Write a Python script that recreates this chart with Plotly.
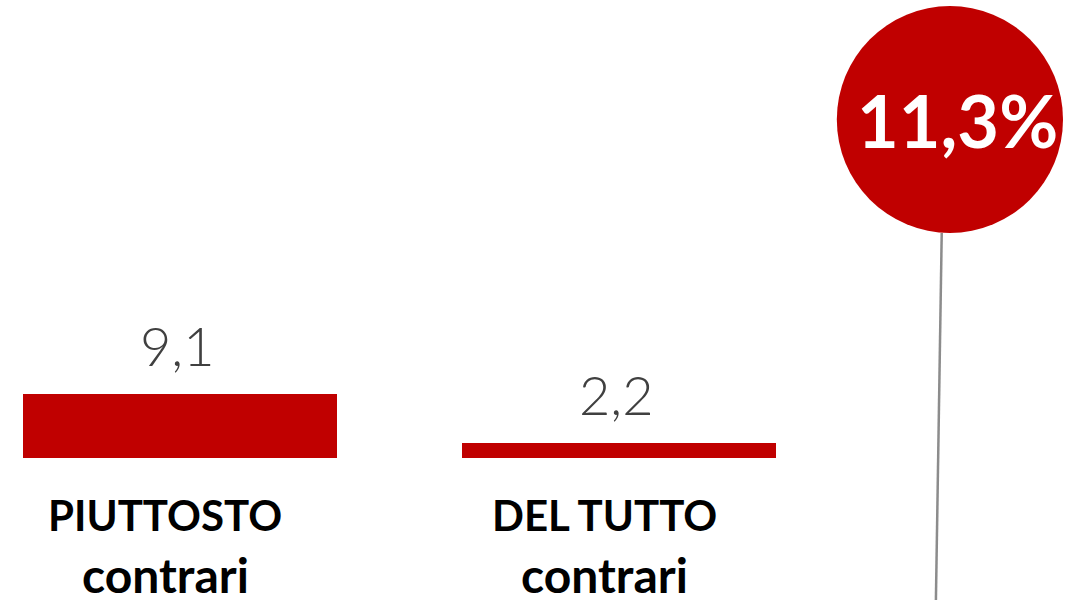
import plotly.graph_objects as go

categories = ["PIUTTOSTO<br>contrari", "DEL TUTTO<br>contrari"]
values = [9.1, 2.2]
value_labels = ["9,1", "2,2"]

total = round(sum(values), 1)
total_label = f"{total:.1f}".replace(".", ",") + "%"

RED = "#C00000"
xpos = list(range(len(values)))

fig = go.Figure()
fig.add_trace(go.Bar(
    x=xpos, y=values, width=0.715,
    marker=dict(color=RED, line=dict(width=0)),
    hoverinfo="skip", showlegend=False,
))

annotations = []
for xi, v, lab in zip(xpos, values, value_labels):
    annotations.append(dict(
        x=xi, y=v, xref="x", yref="y", text=lab, showarrow=False,
        xanchor="center", yanchor="bottom", yshift=14, xshift=-3,
        font=dict(family="Lato", size=54, color="#404040", weight=300),
    ))
line_sizes = [42, 48]
line_shifts = [-30, -86]
for xi, cat in zip(xpos, categories):
    for li, line in enumerate(cat.split("<br>")):
        annotations.append(dict(
            x=xi, y=0, xref="x", yref="y", text=line, showarrow=False,
            xanchor="center", yanchor="top", yshift=line_shifts[li], xshift=-15,
            font=dict(family="Lato", size=line_sizes[li], color="#000000", weight="bold"),
        ))
annotations.append(dict(
    x=0.8886, y=0.80, xref="paper", yref="paper", text=total_label,
    showarrow=False, xanchor="center", yanchor="middle",
    font=dict(family="Lato", size=72, color="#FFFFFF", weight="bold"),
))

fig.update_layout(
    width=1077, height=600,
    margin=dict(l=0, r=0, t=0, b=0),
    paper_bgcolor="white", plot_bgcolor="white",
    xaxis=dict(range=[-0.41, 2.043], visible=False, fixedrange=True),
    yaxis=dict(range=[-20.19, 65.12], visible=False, fixedrange=True),
    annotations=annotations,
    shapes=[
        dict(type="line", xref="paper", yref="paper",
             x0=0.8744, y0=0.6117, x1=0.869, y1=0.0,
             line=dict(color="#8C8C8C", width=2.5), layer="below"),
        dict(type="circle", xref="paper", yref="paper",
             x0=0.777, y0=0.6117, x1=0.987, y1=0.99,
             fillcolor=RED, line=dict(width=0), layer="below"),
    ],
    bargap=0,
)

fig.write_html(
    "out.html",
    config={"displayModeBar": False, "staticPlot": True},
    post_script="document.body.style.margin='0';document.body.style.overflow='hidden';",
)
